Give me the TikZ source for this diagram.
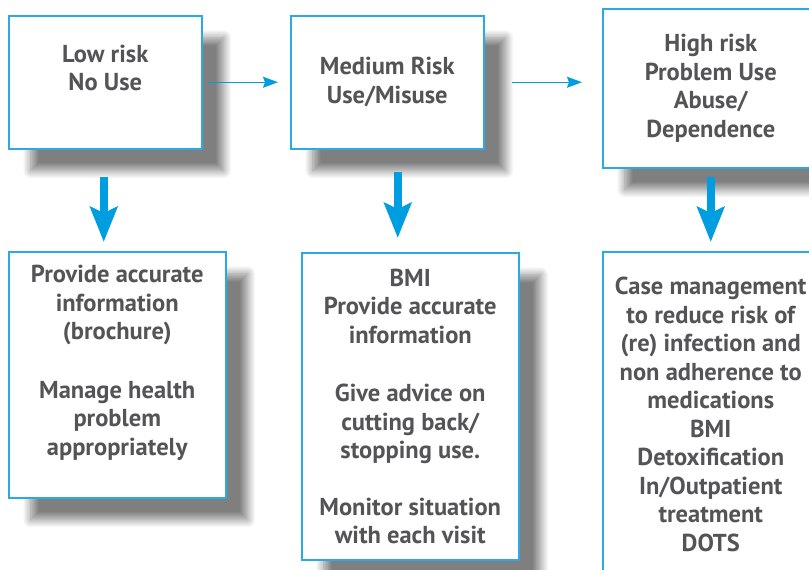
\documentclass[tikz,border=0pt]{standalone}
\usepackage{fontspec}
\setmainfont{PT Sans}
\usetikzlibrary{arrows.meta, positioning, calc, shadows.blur}
\definecolor{BoxBlue}{RGB}{41, 171, 226}
\definecolor{ArrowBlue}{RGB}{0, 158, 224}
\definecolor{TextGray}{RGB}{84, 84, 86}

\begin{document}
\begin{tikzpicture}[x=1pt, y=1pt,
    every node/.style={font=\fontsize{24.5}{28.5}\selectfont\bfseries, text=TextGray},
    riskbox/.style={draw=BoxBlue, line width=1.5pt, fill=white, align=center, anchor=north west, inner sep=0pt,
        blur shadow={shadow xshift=22pt, shadow yshift=-22pt, shadow blur radius=8pt, shadow blur steps=14, shadow opacity=50}},
    flowline/.style={draw=ArrowBlue, line width=1.5pt, -{Stealth[length=15pt, width=11pt, inset=2pt]}},
    droparrow/.style={draw=ArrowBlue, line width=8.5pt, -{Stealth[length=35pt, width=27pt, inset=6pt]}}]
    \path[use as bounding box, clip] (0,0) rectangle (809,-570);

    \node[riskbox, minimum width=193pt, minimum height=133pt] (low) at (8,-15) {Low risk\\No Use\\[0pt]};
    \node[riskbox, minimum width=193pt, minimum height=133pt] (med) at (290,-15) {Medium Risk\\Use/Misuse};
    \node[riskbox, minimum width=216pt, minimum height=159pt] (high) at (602,-8) {High risk\\Problem Use\\Abuse/\\Dependence};

    \node[riskbox, minimum width=217pt, minimum height=246pt] (act1) at (8,-251) {Provide accurate\\information\\(brochure)\\[30pt]Manage health\\problem\\appropriately\\[0pt]};
    \node[riskbox, minimum width=217pt, minimum height=307pt] (act2) at (301,-252) {BMI\\Provide accurate\\information\\[30pt]Give advice on\\cutting back/\\stopping use.\\[28pt]Monitor situation\\with each visit};
    \node[riskbox, minimum width=216pt, minimum height=325pt] (act3) at (602,-251) {Case management\\to reduce risk of\\(re) infection and\\non adherence to\\medications\\BMI\\Detoxification\\In/Outpatient\\treatment\\DOTS};

    \draw[flowline, shorten <=5pt, shorten >=12pt] (low.east) -- (low.east -| med.west);
    \draw[flowline, shorten <=27pt, shorten >=20pt] (med.east) -- (med.east -| high.west);

    \draw[droparrow, shorten <=27pt, shorten >=9pt] ([xshift=-1.5pt]low.south) -- ([xshift=-1.5pt]low.south |- act1.north);
    \draw[droparrow, shorten <=22pt, shorten >=14pt] ([xshift=10.5pt]med.south) -- ([xshift=10.5pt]med.south |- act2.north);
    \draw[droparrow, shorten <=8pt, shorten >=9pt] (high.south) -- (high.south |- act3.north);
\end{tikzpicture}
\end{document}
